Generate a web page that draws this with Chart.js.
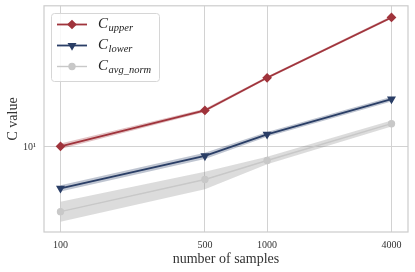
<!DOCTYPE html>
<html>
<head>
<meta charset="utf-8">
<script src="https://cdn.jsdelivr.net/npm/chart.js@4.4.0/dist/chart.umd.min.js"></script>
<style>
  html, body { margin: 0; padding: 0; background: #fff; }
  #wrap { width: 415px; height: 272px; }
</style>
</head>
<body>
<div id="wrap"><canvas id="chart" width="415" height="272"></canvas></div>
<script>
// values (log-log axes)
const samples = [100, 500, 1000, 4000];

const cUpper = [10.1, 16.9, 27.0, 64.2];
const cUpperHi = [10.5, 17.3, 27.5, 65.5];
const cUpperLo = [9.7, 16.5, 26.5, 63.0];

const cLower = [5.52, 8.79, 11.99, 19.87];
const cLowerHi = [5.78, 9.2, 12.4, 20.6];
const cLowerLo = [5.28, 8.4, 11.6, 19.2];

const cAvg = [3.95, 6.27, 8.23, 13.97];
const cAvgHi = [4.55, 7.0, 8.7, 14.6];
const cAvgLo = [3.42, 5.45, 7.8, 13.4];

const seriesLabels = ["C_upper", "C_lower", "C_avg_norm"];
const xTicks = [100, 500, 1000, 4000];
const yTicks = [10];

const RED = "rgb(160, 52, 60)";
const BLUE = "rgb(42, 62, 102)";
const GRAY = "rgb(200, 200, 200)";

const pts = (arr) => samples.map((x, i) => ({ x: x, y: arr[i] }));

function band(hi, lo, color) {
  return [
    { data: pts(hi), borderWidth: 0, pointRadius: 0, fill: "+1", backgroundColor: color },
    { data: pts(lo), borderWidth: 0, pointRadius: 0, fill: false },
  ];
}

const mainSets = [
  { data: pts(cUpper), borderColor: RED, backgroundColor: RED, borderWidth: 1.8,
    pointStyle: "rectRot", pointRadius: 3.6, pointRotation: 0, legendLabel: seriesLabels[0] },
  { data: pts(cLower), borderColor: BLUE, backgroundColor: BLUE, borderWidth: 1.8,
    pointStyle: "triangle", pointRadius: 3.4, pointRotation: 180, legendLabel: seriesLabels[1] },
  { data: pts(cAvg), borderColor: GRAY, backgroundColor: GRAY, borderWidth: 1.4,
    pointStyle: "circle", pointRadius: 3, pointRotation: 0, legendLabel: seriesLabels[2] },
];

const datasets = [
  mainSets[0],
  mainSets[1],
  mainSets[2],
  ...band(cUpperHi, cUpperLo, "rgba(160, 52, 60, 0.3)"),
  ...band(cLowerHi, cLowerLo, "rgba(42, 62, 102, 0.3)"),
  ...band(cAvgHi, cAvgLo, "rgba(128, 128, 128, 0.28)"),
];

const SERIF = "'Liberation Serif', 'DejaVu Serif', serif";

// no extra room for half tick labels, the axes sit where matplotlib put them
function noPad(s) {
  s.paddingTop = 0; s.paddingBottom = 0; s.paddingLeft = 0; s.paddingRight = 0;
}

// full box round the plot area, like the matplotlib spines
const frame = {
  id: "frame",
  beforeDatasetsDraw(chart) {
    const a = chart.chartArea, ctx = chart.ctx;
    ctx.save();
    ctx.strokeStyle = "#cccccc";
    ctx.lineWidth = 1.2;
    ctx.strokeRect(a.left, a.top, a.right - a.left, a.bottom - a.top);
    ctx.restore();
  },
};

// legend with subscripts
const subLegend = {
  id: "subLegend",
  afterDraw(chart) {
    const ctx = chart.ctx;
    const bx = 51.5, by = 13.5, bw = 108, bh = 68;
    ctx.save();
    ctx.beginPath();
    ctx.roundRect(bx, by, bw, bh, 3);
    ctx.fillStyle = "rgba(255,255,255,0.85)";
    ctx.fill();
    ctx.strokeStyle = "#d6d6d6";
    ctx.lineWidth = 1;
    ctx.stroke();
    mainSets.forEach((ds, i) => {
      const y = by + 11 + i * 21;
      ctx.strokeStyle = ds.borderColor;
      ctx.lineWidth = ds.borderWidth;
      ctx.beginPath();
      ctx.moveTo(57, y);
      ctx.lineTo(87, y);
      ctx.stroke();
      Chart.helpers.drawPoint(ctx, {
        pointStyle: ds.pointStyle, radius: ds.pointRadius,
        rotation: ds.pointRotation, borderWidth: 1,
      }, 72, y);
      ctx.fillStyle = ds.borderColor;
      ctx.fill();
      const k = ds.legendLabel.indexOf("_");
      const main = ds.legendLabel.slice(0, k);
      const sub = ds.legendLabel.slice(k + 1);
      ctx.fillStyle = "#222";
      ctx.textBaseline = "middle";
      ctx.textAlign = "left";
      ctx.font = "italic 15px " + SERIF;
      ctx.fillText(main, 98, y);
      const w = ctx.measureText(main).width;
      ctx.font = "italic 10.5px " + SERIF;
      ctx.fillText(sub, 98 + w + 0.5, y + 4);
    });
    ctx.restore();
  },
};

new Chart(document.getElementById("chart"), {
  type: "line",
  data: { datasets: datasets },
  options: {
    responsive: false,
    animation: false,
    layout: { padding: { left: 0, right: 7, top: 5, bottom: 0 } },
    plugins: { legend: { display: false }, tooltip: { enabled: false } },
    elements: { line: { tension: 0 } },
    scales: {
      x: {
        type: "logarithmic",
        min: 83.2,
        max: 4808,
        afterBuildTicks: (s) => { s.ticks = xTicks.map((v) => ({ value: v })); },
        afterFit: (s) => { s.height = 40; noPad(s); },
        ticks: { color: "#333", font: { family: SERIF, size: 10 }, padding: 7, maxRotation: 0,
          callback: (v) => String(v) },
        grid: { color: "#d2d2d2", lineWidth: 1, drawTicks: false },
        border: { display: false },
        title: { display: true, text: "number of samples", color: "#333",
          font: { family: SERIF, size: 14 }, padding: { top: 0, bottom: 4 } },
      },
      y: {
        type: "logarithmic",
        min: 2.95,
        max: 75.9,
        afterBuildTicks: (s) => { s.ticks = yTicks.map((v) => ({ value: v })); },
        afterFit: (s) => { s.width = 44; noPad(s); },
        ticks: { color: "#333", font: { family: SERIF, size: 10 }, padding: 8,
          callback: (v) => "10\u00b9" },
        grid: { color: "#d2d2d2", lineWidth: 1, drawTicks: false },
        border: { display: false },
        title: { display: true, text: "C value", color: "#333",
          font: { family: SERIF, size: 14 }, padding: { top: 5, bottom: 0 } },
      },
    },
  },
  plugins: [frame, subLegend],
});
</script>
</body>
</html>
